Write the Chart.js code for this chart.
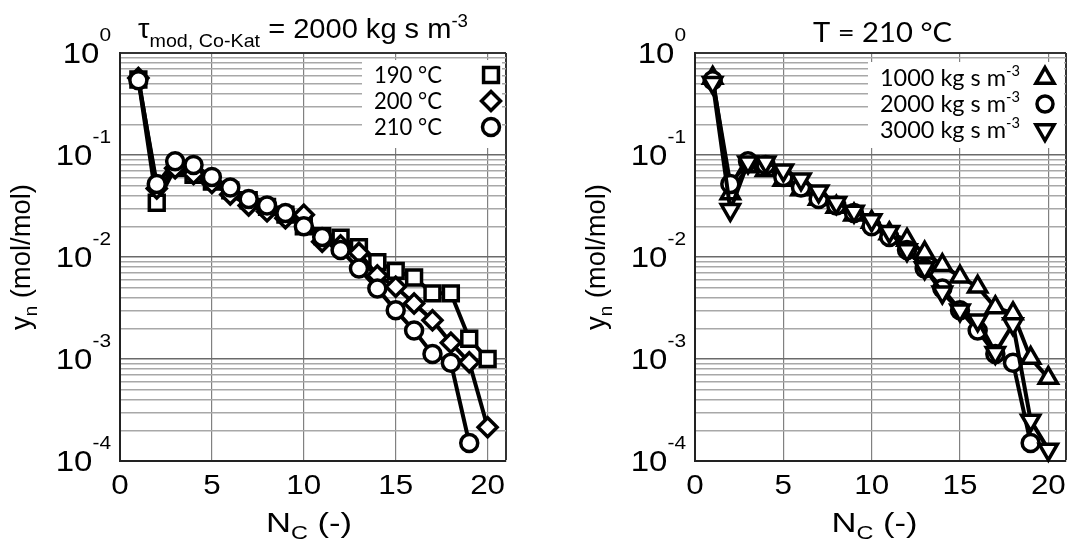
<!DOCTYPE html>
<html>
<head>
<meta charset="utf-8">
<script src="https://cdn.jsdelivr.net/npm/chart.js@4.4.1/dist/chart.umd.min.js"></script>
<style>
  html, body { margin: 0; padding: 0; background: #fff; overflow: hidden; width: 1079px; height: 543px; }
  canvas { position: absolute; top: 0; }
  #left { left: 0; }
  #right { left: 539px; }
</style>
</head>
<body>
<canvas id="left" width="540" height="543"></canvas>
<canvas id="right" width="541" height="543"></canvas>
<script>
// Carbon number of the product fraction
const nC = [1, 2, 3, 4, 5, 6, 7, 8, 9, 10, 11, 12, 13, 14, 15, 16, 17, 18, 19, 20];

// Left panel: tau_mod = 2000 kg s m^-3, three temperatures
const y190C = [0.55, 0.034, 0.075, 0.064, 0.055, 0.045, 0.036, 0.031, 0.026, 0.020, 0.016, 0.0155, 0.0125, 0.0089, 0.0073, 0.0063, 0.0044, 0.0044, 0.00158, 0.00100];
const y200C = [0.57, 0.047, 0.074, 0.065, 0.053, 0.041, 0.032, 0.028, 0.024, 0.026, 0.0141, 0.013, 0.011, 0.0066, 0.0051, 0.0035, 0.0024, 0.00144, 0.00093, 0.000214];
const y210C = [0.54, 0.052, 0.087, 0.080, 0.061, 0.048, 0.037, 0.032, 0.027, 0.020, 0.0157, 0.0117, 0.0077, 0.0049, 0.0030, 0.0019, 0.00112, 0.00092, 0.00015, null];

// Right panel: T = 210 °C, three modified residence times
const yTau1000 = [0.57, 0.042, 0.077, 0.071, 0.057, 0.046, 0.037, 0.031, 0.026, 0.022, 0.017, 0.0147, 0.011, 0.0083, 0.0064, 0.0051, 0.0032, 0.0028, 0.00102, 0.00065];
const yTau2000 = y210C;
const yTau3000 = [0.51, 0.029, 0.085, 0.085, 0.071, 0.058, 0.044, 0.034, 0.028, 0.023, 0.0177, 0.0117, 0.0078, 0.0045, 0.0030, 0.0024, 0.00115, 0.0022, 0.00025, 0.00013];

// Axis ticks
const xTickLabels = [0, 5, 10, 15, 20];
const yDecades = [-4, -3, -2, -1, 0];
const xMax = 21;

const SANS = '"Liberation Sans", Arial, sans-serif';
const LATO = 'Lato, "Open Sans", sans-serif';

function pts(vals) {
  return nC.map((x, i) => ({ x: x, y: vals[i] })).filter(p => p.y != null);
}

// Log grid: 1..9 x 10^e
const yGrid = [];
yDecades.forEach(e => {
  if (e === 0) { yGrid.push(1); return; }
  for (let m = 1; m <= 9; m++) yGrid.push(+(m * Math.pow(10, e)).toPrecision(6));
});

function isDecade(v) {
  const l = Math.log10(v);
  return Math.abs(l - Math.round(l)) < 1e-6;
}

// Draw a run of text pieces (base, sub- and superscripts); either a fixed
// horizontal stretch (sx) or a total width to fit (fitW)
function richText(ctx, x, y, segs, align, sx, family, fitW) {
  let w = 0;
  segs.forEach(s => {
    ctx.font = s[1] + 'px ' + (s[3] || family);
    s.w = ctx.measureText(s[0]).width;
    w += s.w;
  });
  if (fitW) sx = fitW / w;
  sx = sx || 1;
  let start = x;
  if (align === 'center') start = x - w * sx / 2;
  else if (align === 'right') start = x - w * sx;
  ctx.save();
  ctx.translate(start, y);
  ctx.scale(sx, 1);
  ctx.fillStyle = '#000';
  ctx.textBaseline = 'alphabetic';
  ctx.textAlign = 'left';
  let cx = 0;
  segs.forEach(s => {
    ctx.font = s[1] + 'px ' + (s[3] || family);
    ctx.fillText(s[0], cx, s[2] || 0);
    cx += s.w;
  });
  ctx.restore();
}

function marker(ctx, style, x, y, r, rot) {
  ctx.save();
  ctx.translate(x, y);
  ctx.rotate((rot || 0) * Math.PI / 180);
  ctx.beginPath();
  if (style === 'rect') {
    const h = r * Math.SQRT1_2;
    ctx.rect(-h, -h, 2 * h, 2 * h);
  } else if (style === 'rectRot') {
    ctx.moveTo(0, -r); ctx.lineTo(r, 0); ctx.lineTo(0, r); ctx.lineTo(-r, 0); ctx.closePath();
  } else if (style === 'circle') {
    ctx.arc(0, 0, r, 0, Math.PI * 2);
  } else {
    for (let k = 0; k < 3; k++) {
      const a = k * 2 * Math.PI / 3;
      const px = Math.sin(a) * r, py = -Math.cos(a) * r;
      if (k === 0) ctx.moveTo(px, py); else ctx.lineTo(px, py);
    }
    ctx.closePath();
  }
  ctx.fillStyle = '#fff';
  ctx.fill();
  ctx.lineWidth = 3.5;
  ctx.strokeStyle = '#000';
  ctx.stroke();
  ctx.restore();
}

function decorPlugin(spec) {
  return {
    id: 'decor',
    afterDraw(chart) {
      const ctx = chart.ctx, a = chart.chartArea;
      const xs = chart.scales.x, ys = chart.scales.y;
      // y tick labels 10^e
      yDecades.forEach(e => {
        const py = ys.getPixelForValue(Math.pow(10, e));
        richText(ctx, a.left - spec.yLabGap, py + 10,
          [['10', 30, 0], [String(e), 19, -22]], 'right', 1.1, SANS);
      });
      // x tick labels
      xTickLabels.forEach(v => {
        const px = xs.getPixelForValue(v);
        richText(ctx, px, a.bottom + 33, [[String(v), 28, 0]], 'center', 1.12, SANS);
      });
      // x title
      richText(ctx, (a.left + a.right) / 2 + spec.xTitleShift, 532,
        [['N', 28, 0], ['C', 19, 7], [' (-)', 28, 0]], 'center', null, SANS, 86);
      // y title
      ctx.save();
      ctx.translate(a.left - spec.yTitleGap, (a.top + a.bottom) / 2);
      ctx.rotate(-Math.PI / 2);
      richText(ctx, 0, 0, [['y', 28, 0], ['n', 19, 7], [' (mol/mol)', 28, 0]], 'center', null, SANS, 146);
      ctx.restore();
      // panel title
      spec.title(ctx, a);
      // legend box
      const L = spec.legend;
      ctx.fillStyle = '#fff';
      ctx.fillRect(L.box[0], L.box[1], L.box[2], L.box[3]);
      L.items.forEach((it, i) => {
        const base = L.y0 + i * L.dy;
        richText(ctx, L.textRight, base, it.text, 'right', null, LATO, L.textW);
        marker(ctx, it.style, L.mx, base - 8, it.r, it.rot);
      });
    }
  };
}

function gridColor(ctx) {
  const v = ctx.tick && ctx.tick.value;
  if (v === 1) return '#333';
  return isDecade(v) ? '#6a6a6a' : '#a8a8a8';
}
function gridWidth(ctx) {
  const v = ctx.tick && ctx.tick.value;
  if (v === 1) return 2;
  return 1.5;
}

function makeChart(id, datasets, spec) {
  const common = {
    borderColor: '#000', borderWidth: 4, pointBorderColor: '#000',
    pointBackgroundColor: '#fff', pointBorderWidth: 3.5, tension: 0, clip: false
  };
  return new Chart(document.getElementById(id), {
    type: 'line',
    data: { datasets: datasets.map(d => Object.assign({}, common, d)) },
    options: {
      responsive: false,
      animation: false,
      events: [],
      layout: { padding: { top: 53, right: spec.padRight, left: 0, bottom: 0 } },
      plugins: { legend: { display: false }, tooltip: { enabled: false } },
      scales: {
        x: {
          type: 'linear', min: 0, max: xMax,
          afterBuildTicks(s) { s.ticks = xTickLabels.concat([xMax]).map(v => ({ value: v })); },
          afterFit(s) { s.height = 82; },
          ticks: { display: false },
          grid: {
            drawTicks: false,
            color: c => (c.tick && c.tick.value === xMax) ? '#333' : '#808080',
            lineWidth: c => (c.tick && c.tick.value === xMax) ? 2 : 1.2
          },
          border: { display: true, color: '#222', width: 2 }
        },
        y: {
          type: 'logarithmic', min: 1e-4, max: 1,
          afterBuildTicks(s) { s.ticks = yGrid.map(v => ({ value: v })); },
          afterFit(s) { s.width = spec.axisWidth; },
          ticks: { display: false },
          grid: { drawTicks: false, color: gridColor, lineWidth: gridWidth },
          border: { display: true, color: '#222', width: 2 }
        }
      }
    },
    plugins: [decorPlugin(spec)]
  });
}

function drawAll() {
  // Left panel
  makeChart('left', [
    { data: pts(y190C), pointStyle: 'rect', pointRadius: 10.5, order: 2 },
    { data: pts(y200C), pointStyle: 'rectRot', pointRadius: 9.5, order: 1 },
    { data: pts(y210C), pointStyle: 'circle', pointRadius: 8.5, order: 0 }
  ], {
    padRight: 34, axisWidth: 120, yLabGap: 9, yTitleGap: 90, xTitleShift: -4,
    title(ctx, a) {
      richText(ctx, 138, 38, [
        ['\u03C4', 28, 0], ['mod, Co-Kat', 19, 9], [' = 2000 kg s m', 28, 0], ['-3', 18, -11]
      ], 'left', null, SANS, 330);
    },
    legend: {
      box: [362, 60, 140, 88], y0: 83, dy: 26, textRight: 442, textW: 68, mx: 491,
      items: [
        { text: [['190 \u00B0C', 24, 0]], style: 'rect', r: 10.5 },
        { text: [['200 \u00B0C', 24, 0]], style: 'rectRot', r: 9.5 },
        { text: [['210 \u00B0C', 24, 0]], style: 'circle', r: 8.5 }
      ]
    }
  });

  // Right panel
  makeChart('right', [
    { data: pts(yTau1000), pointStyle: 'triangle', pointRadius: 10.5, order: 2 },
    { data: pts(yTau2000), pointStyle: 'circle', pointRadius: 8.5, order: 1 },
    { data: pts(yTau3000), pointStyle: 'triangle', pointRotation: 180, pointRadius: 10.5, order: 0 }
  ], {
    padRight: 0, axisWidth: 156, yLabGap: 9, yTitleGap: 90, xTitleShift: -6,
    title(ctx, a) {
      richText(ctx, 813 - 539, 42, [['T = 210 \u00B0C', 27, 0]], 'left', null, LATO, 139);
    },
    legend: {
      box: [868 - 539, 62, 196, 86], y0: 86, dy: 26, textRight: 1020 - 539, textW: 140, mx: 1045 - 539,
      items: [
        { text: [['1000 kg s m', 24, 0], ['-3', 15, -10]], style: 'triangle', r: 10.5 },
        { text: [['2000 kg s m', 24, 0], ['-3', 15, -10]], style: 'circle', r: 8 },
        { text: [['3000 kg s m', 24, 0], ['-3', 15, -10]], style: 'triangle', r: 10.5, rot: 180 }
      ]
    }
  });
}

const fontLoads = [
  '28px "Liberation Sans"', '19px "Liberation Sans"', '24px Lato'
].map(f => document.fonts.load(f).catch(() => null));
Promise.race([Promise.all(fontLoads), new Promise(r => setTimeout(r, 1500))]).then(drawAll);
</script>
</body>
</html>
